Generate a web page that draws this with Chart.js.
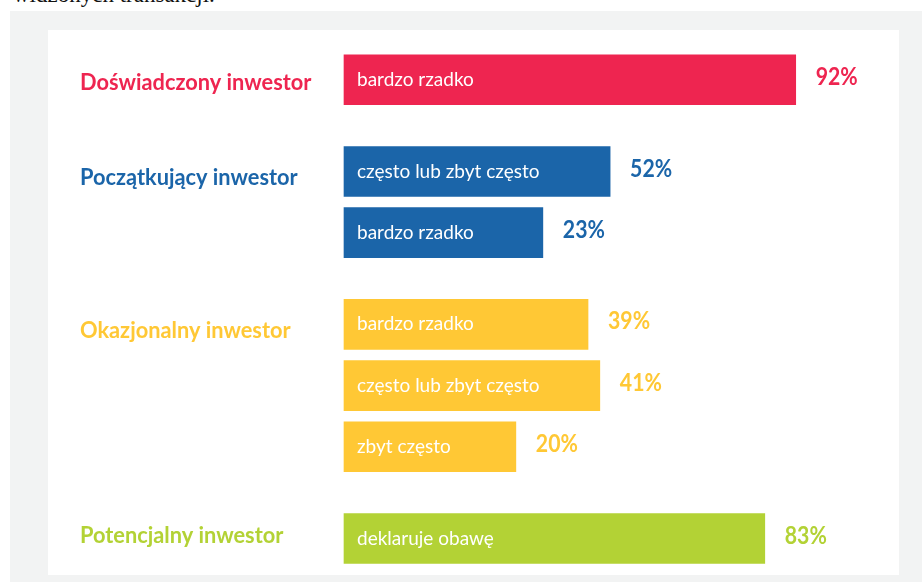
<!DOCTYPE html>
<html>
<head>
<meta charset="utf-8">
<script src="https://cdn.jsdelivr.net/npm/chart.js@4"></script>
<style>
  html, body { margin: 0; padding: 0; background: #ffffff; width: 922px; height: 582px; overflow: hidden; }
  #gray { position: absolute; left: 10px; top: 11px; width: 912px; height: 571px; background: #f2f3f3; }
  #panel { position: absolute; left: 48px; top: 30px; width: 851px; height: 545px; background: #ffffff; }
  #topline { position: absolute; left: 13px; top: -18px; font-family: "Liberation Serif", serif; font-size: 23px; color: #111; white-space: nowrap; }
  #c { position: absolute; left: 0; top: 0; }
</style>
</head>
<body>
<div id="topline">widzonych transakcji.</div>
<div id="gray"></div>
<div id="panel"></div>
<canvas id="c" width="922" height="582"></canvas>
<script>
// ---- data ----
const groups = ['Doświadczony inwestor', 'Początkujący inwestor', 'Okazjonalny inwestor', 'Potencjalny inwestor'];
const groupColors = ['#ee2550', '#1b65a9', '#ffc835', '#b3d235'];
const answers = [
  ['bardzo rzadko'],
  ['często lub zbyt często', 'bardzo rzadko'],
  ['bardzo rzadko', 'często lub zbyt często', 'zbyt często'],
  ['deklaruje obawę']
];
// percentages printed next to the bars
const shares = [[92], [52, 23], [39, 41, 20], [83]];
// drawn bar lengths (the infographic does not draw bars proportionally)
const barLengths = [[92], [54.2, 40.5], [49.7, 52.1, 35.0], [85.7]];

// ---- styling ----
const titleBaselineOffset = [10, 13.5, 13.5, 4.5];

// ---- build the category slots (spacers between bars and groups) ----
const slotLabels = [], slotData = [], slotColors = [], slotInfo = [];
groups.forEach((g, gi) => {
  answers[gi].forEach((a, ai) => {
    if (slotLabels.length) {
      const spacers = ai === 0 ? 2 : 1;
      for (let s = 0; s < spacers; s++) {
        slotLabels.push(''); slotData.push(null); slotColors.push('rgba(0,0,0,0)'); slotInfo.push(null);
      }
    }
    slotLabels.push(a);
    slotData.push(barLengths[gi][ai]);
    slotColors.push(groupColors[gi]);
    slotInfo.push({ group: gi, item: ai, text: a, share: shares[gi][ai] });
  });
});

function drawScaled(ctx, text, x, y, sx) {
  ctx.save();
  ctx.translate(x, y);
  ctx.scale(sx, 1);
  ctx.fillText(text, 0, 0);
  ctx.restore();
}

const labelPlugin = {
  id: 'infoLabels',
  afterDatasetsDraw(chart) {
    const ctx = chart.ctx;
    const meta = chart.getDatasetMeta(0);
    ctx.save();
    ctx.textBaseline = 'alphabetic';
    ctx.textAlign = 'left';
    meta.data.forEach((bar, i) => {
      const info = slotInfo[i];
      if (!info) return;
      const col = groupColors[info.group];
      const left = Math.min(bar.x, bar.base);
      const right = Math.max(bar.x, bar.base);
      if (info.item === 0) {
        ctx.fillStyle = col;
        ctx.font = 'bold 22px Lato';
        drawScaled(ctx, groups[info.group], 80, bar.y + titleBaselineOffset[info.group], 0.99);
      }
      ctx.fillStyle = '#ffffff';
      ctx.font = '19px Lato';
      drawScaled(ctx, info.text, left + 13, bar.y + 6, 1.0);
      ctx.fillStyle = col;
      ctx.font = 'bold 25px Lato';
      drawScaled(ctx, info.share + '%', right + 20, bar.y + 5, 0.85);
    });
    ctx.restore();
  }
};

new Chart(document.getElementById('c'), {
  type: 'bar',
  data: {
    labels: slotLabels,
    datasets: [{
      data: slotData,
      backgroundColor: slotColors,
      borderWidth: 0,
      barThickness: 50,
      clip: false
    }]
  },
  options: {
    indexAxis: 'y',
    responsive: false,
    animation: false,
    layout: { padding: { left: 344, right: 87, top: 64.5, bottom: 28.2 } },
    scales: {
      x: { display: false, min: 0, max: 100 },
      y: { display: false, grid: { display: false } }
    },
    plugins: { legend: { display: false }, tooltip: { enabled: false } }
  },
  plugins: [labelPlugin]
});
</script>
</body>
</html>
